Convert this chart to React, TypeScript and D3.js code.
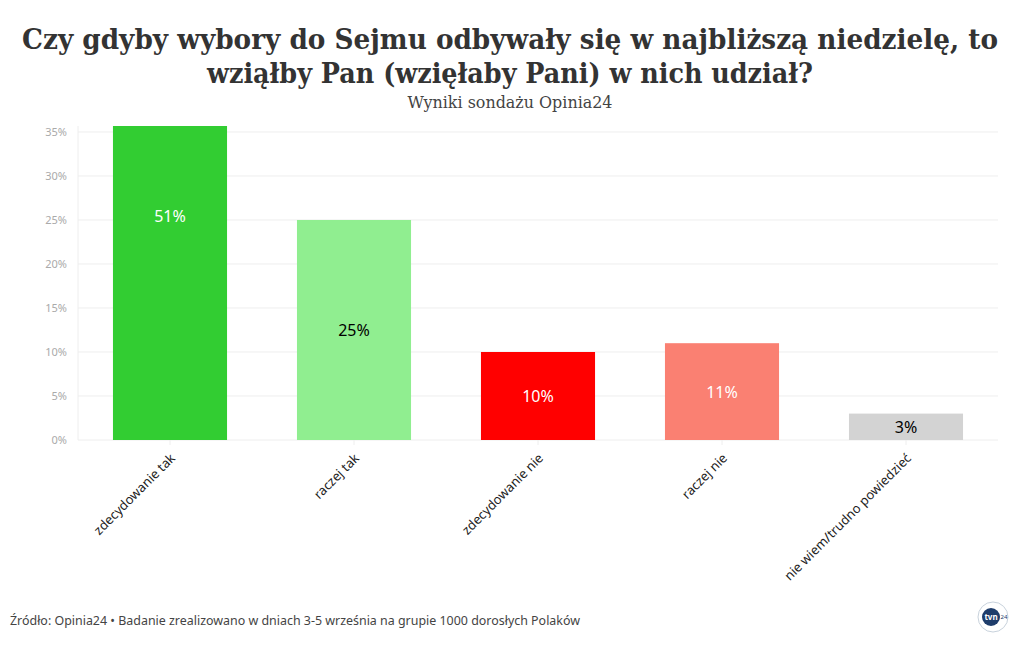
import React from "react";
import * as d3 from "d3";

const categories = ["zdecydowanie tak", "raczej tak", "zdecydowanie nie", "raczej nie", "nie wiem/trudno powiedzieć"];
const values = [51, 25, 10, 11, 3];
const barColors = ["#32CD32", "#90EE90", "#FF0000", "#FA8072", "#D3D3D3"];
const labelColors = ["#ffffff", "#000000", "#ffffff", "#ffffff", "#000000"];
const yTicks = [0, 5, 10, 15, 20, 25, 30, 35];

const W = 1020, H = 650;
const plot = { left: 78, right: 998, top: 126, bottom: 440 };

export default function App() {
  const x = d3.scaleBand<string>().domain(categories).range([plot.left, plot.right]).paddingInner(0.38).paddingOuter(0.19);
  const y = d3.scaleLinear().domain([0, 35.68]).range([plot.bottom, plot.top]);
  const sans = "'Source Sans Pro', 'Noto Sans', Lato, sans-serif";
  return (
    <svg width={W} height={H} style={{ position: "absolute", left: 0, top: 0, background: "#fff" }}>
      <defs>
        <clipPath id="plotclip">
          <rect x={plot.left} y={plot.top} width={plot.right - plot.left} height={plot.bottom - plot.top} />
        </clipPath>
      </defs>
      <text x={510} y={49} textAnchor="middle" fontFamily="'DejaVu Serif', serif" fontWeight="bold" fontSize={28} fill="#333" textLength={976} lengthAdjust="spacingAndGlyphs">Czy gdyby wybory do Sejmu odbywały się w najbliższą niedzielę, to</text>
      <text x={510} y={83} textAnchor="middle" fontFamily="'DejaVu Serif', serif" fontWeight="bold" fontSize={28} fill="#333" textLength={606} lengthAdjust="spacingAndGlyphs">wziąłby Pan (wzięłaby Pani) w nich udział?</text>
      <text x={510} y={108} textAnchor="middle" fontFamily="'DejaVu Serif', serif" fontSize={16} fill="#444" textLength={205} lengthAdjust="spacingAndGlyphs">Wyniki sondażu Opinia24</text>

      {yTicks.map((t) => (
        <g key={t}>
          <line x1={plot.left} x2={plot.right} y1={y(t)} y2={y(t)} stroke="#eeeeee" strokeWidth={1} />
          <text x={plot.left - 11} y={y(t) + 4} textAnchor="end" fontFamily={sans} fontSize={11} fill="#aaaaaa">{t}%</text>
        </g>
      ))}
      <line x1={plot.left} x2={plot.left} y1={plot.top} y2={plot.bottom} stroke="#eeeeee" />

      <g clipPath="url(#plotclip)">
        {categories.map((c, i) => (
          <rect key={c} x={x(c)} y={y(values[i])} width={x.bandwidth()} height={y(0) - y(values[i])} fill={barColors[i]} />
        ))}
      </g>
      {categories.map((c, i) => (
        <text key={c + "v"} x={(x(c) as number) + x.bandwidth() / 2} y={(y(values[i]) + y(0)) / 2 + 6} textAnchor="middle" fontFamily={sans} fontSize={16} fill={labelColors[i]}>{values[i]}%</text>
      ))}

      {categories.map((c) => {
        const cx = (x(c) as number) + x.bandwidth() / 2;
        return (
          <g key={c + "t"}>
            <line x1={cx} x2={cx} y1={plot.bottom} y2={plot.bottom + 5} stroke="#eeeeee" />
            <text transform={`translate(${cx + 6},${plot.bottom + 19}) rotate(-45)`} textAnchor="end" fontFamily={sans} fontSize={13} fill="#222">{c}</text>
          </g>
        );
      })}

      <text x={10} y={625} fontFamily={sans} fontSize={13} fill="#444" textLength={570} lengthAdjust="spacingAndGlyphs">Źródło: Opinia24 • Badanie zrealizowano w dniach 3-5 września na grupie 1000 dorosłych Polaków</text>

      <g transform="translate(993,617)">
        <circle r={15} fill="#ffffff" stroke="#c8d2dc" strokeWidth={1} />
        <circle cx={-2} cy={0} r={9} fill="#1f3d6b" />
        <text x={-2} y={3} textAnchor="middle" fontFamily={sans} fontSize={8} fontWeight="bold" fill="#fff">tvn</text>
        <text x={11} y={2} textAnchor="middle" fontFamily={sans} fontSize={6} fill="#1f3d6b">24</text>
      </g>
    </svg>
  );
}
